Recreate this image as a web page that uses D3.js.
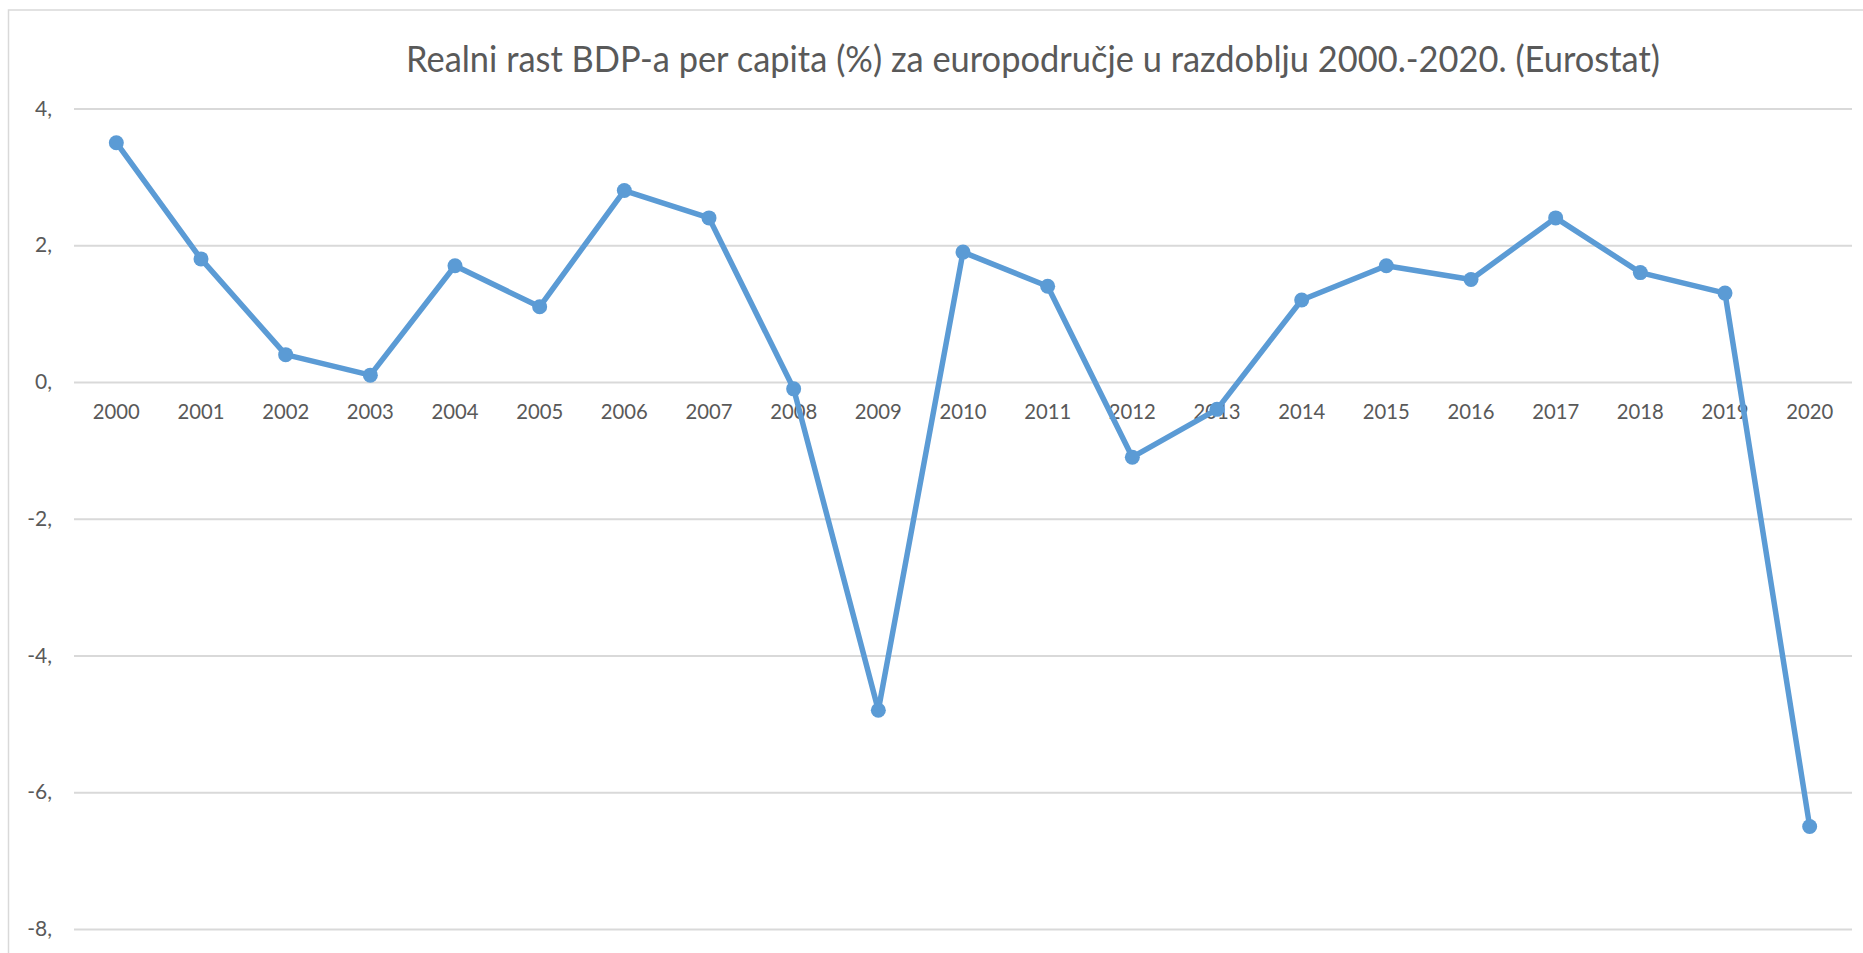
<!DOCTYPE html>
<html><head><meta charset="utf-8">
<script src="https://cdn.jsdelivr.net/npm/d3@7"></script>
<style>html,body{margin:0;padding:0;background:#fff;overflow:hidden}</style>
</head><body>
<svg id="chart" width="1863" height="953"></svg>
<script>
const title = "Realni rast BDP-a per capita (%) za europodručje u razdoblju 2000.-2020. (Eurostat)";
const years = ["2000","2001","2002","2003","2004","2005","2006","2007","2008","2009","2010","2011","2012","2013","2014","2015","2016","2017","2018","2019","2020"];
const growth = [3.5,1.8,0.4,0.1,1.7,1.1,2.8,2.4,-0.1,-4.8,1.9,1.4,-1.1,-0.4,1.2,1.7,1.5,2.4,1.6,1.3,-6.5];
const yTicks = [4,2,0,-2,-4,-6,-8];
const yTickLabels = ["4,","2,","0,","-2,","-4,","-6,","-8,"];

(function(){
const svg = d3.select("#chart");
const W = 1863, H = 953;
const pl = 74, pr = 1852, pt = 108.5, pb = 929;
const font = "Lato, 'Open Sans', sans-serif";

svg.append("rect").attr("x",8.5).attr("y",10).attr("width",W+10).attr("height",H+10)
  .attr("fill","#fff").attr("stroke","#d9d9d9").attr("stroke-width",1.5);

const x = d3.scaleBand().domain(years).range([pl,pr]);
const y = d3.scaleLinear().domain([-8,4]).range([pb,pt]);

const yAxis = d3.axisLeft(y).tickValues(yTicks).tickSize(-(pr-pl))
  .tickFormat((d,i)=>yTickLabels[i]).tickPadding(22);
const gy = svg.append("g").attr("transform",`translate(${pl},0)`).call(yAxis);
gy.select(".domain").remove();
gy.selectAll(".tick line").attr("stroke","#d9d9d9").attr("stroke-width",2);
gy.selectAll(".tick text").attr("fill","#595959").style("font-family",font).style("font-size","21px");

const xAxis = d3.axisBottom(x).tickSize(0).tickPadding(22);
const gx = svg.append("g").attr("transform",`translate(0,${y(0)})`).call(xAxis);
gx.select(".domain").remove();
gx.selectAll(".tick text").attr("fill","#595959").style("font-family",font).style("font-size","21px")
  .attr("textLength",47).attr("lengthAdjust","spacingAndGlyphs");

svg.append("text").attr("x",1033).attr("y",72).attr("text-anchor","middle")
  .attr("fill","#595959").style("font-family",font).style("font-size","36px")
  .attr("textLength",1254).attr("lengthAdjust","spacingAndGlyphs").text(title);

const cx = d => x(d) + x.bandwidth()/2;
const line = d3.line().x((d,i)=>cx(years[i])).y(d=>y(d));
svg.append("path").datum(growth).attr("d",line).attr("fill","none")
  .attr("stroke","#5B9BD5").attr("stroke-width",5.5).attr("stroke-linejoin","round");
svg.selectAll("circle.pt").data(growth).enter().append("circle").attr("class","pt")
  .attr("cx",(d,i)=>cx(years[i])).attr("cy",d=>y(d)).attr("r",7.5).attr("fill","#5B9BD5");
})();
</script>
</body></html>
